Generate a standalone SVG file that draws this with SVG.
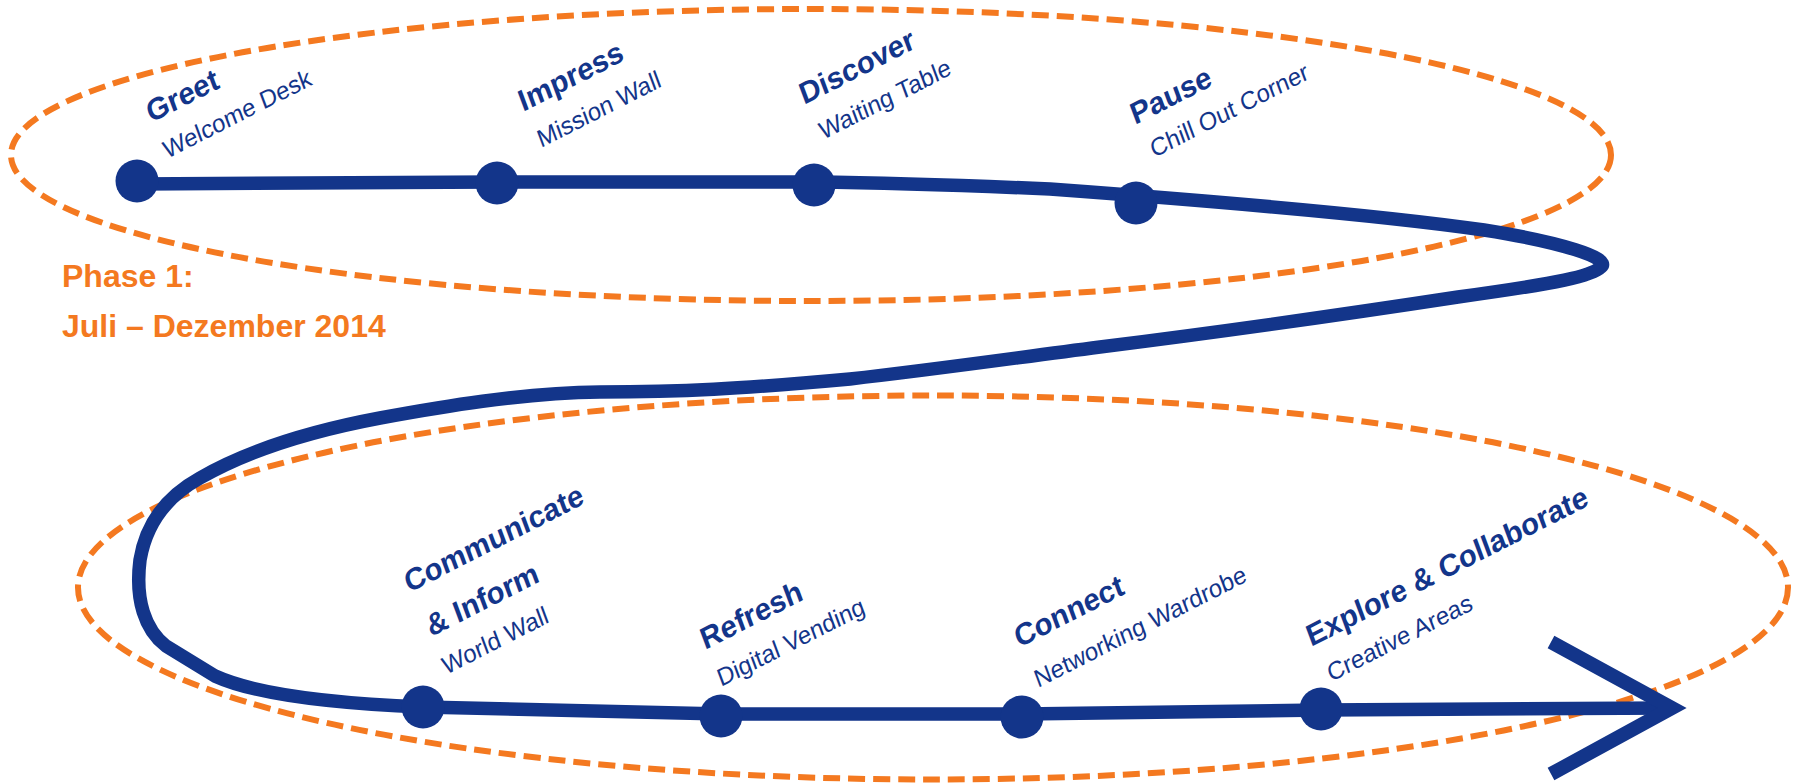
<svg xmlns="http://www.w3.org/2000/svg" width="1801" height="784" viewBox="0 0 1801 784">
<style>
.bg{fill:#ffffff}
.phase{fill:none;stroke:#F47920;stroke-width:6;stroke-dasharray:17 8}
.path{fill:none;stroke:#13358A;stroke-width:13.5;stroke-linejoin:round}
.arrow{fill:none;stroke:#13358A;stroke-width:14;stroke-linejoin:miter;stroke-miterlimit:10}
.dot{fill:#13358A}
.t{font-family:"Liberation Sans",Arial,sans-serif;fill:#13358A}
.b{font-weight:bold;font-size:30px}
.s{font-size:24.5px}
.ph{font-family:"Liberation Sans",Arial,sans-serif;font-weight:bold;font-size:32px;fill:#F47920}
</style>
<rect class="bg" x="0" y="0" width="1801" height="784"/>
<g id="phases">
<ellipse class="phase" cx="811" cy="155" rx="800" ry="146"/>
<ellipse class="phase" cx="933" cy="587.5" rx="855" ry="192"/>
</g>
<g id="connectors">
<path class="path" d="M137,184 C300,183 420,182 497,182 C620,181 720,181 814,182 C900,183 980,186 1050,189 C1200,200 1380,215 1484,230 C1560,242 1612,258 1601,267 C1592,276 1560,283 1458,297 C1340,315 1220,332 1100,347 C1000,360 930,370 850,379 C740,389 680,392 600,392 C520,393 440,407 380,418 C300,433 240,455 200,478 C160,500 145,530 140,560 C135,600 145,630 166,646 L215,676 C250,692 320,703 423,707 L722,714 L1022,714 L1321,710 L1672,708"/>
<polyline class="arrow" points="1551,642 1672,708 1551,774"/>
</g>
<g id="label-phase">
<text class="ph" x="62" y="287">Phase 1:</text>
<text class="ph" x="62" y="337">Juli – Dezember 2014</text>
</g>
<g id="node-greet">
<circle class="dot" cx="137" cy="181" r="21.5"/>
<text class="t b" transform="matrix(0.891,-0.454,0.35,0.94,151,123)">Greet</text>
<text class="t s" transform="matrix(0.891,-0.454,0.35,0.94,167,159)">Welcome Desk</text>
</g>
<g id="node-impress">
<circle class="dot" cx="497" cy="183" r="21.5"/>
<text class="t b" transform="matrix(0.891,-0.454,0.35,0.94,523,112)">Impress</text>
<text class="t s" transform="matrix(0.891,-0.454,0.35,0.94,541,148)">Mission Wall</text>
</g>
<g id="node-discover">
<circle class="dot" cx="814" cy="185" r="21.5"/>
<text class="t b" transform="matrix(0.891,-0.454,0.35,0.94,804,105)">Discover</text>
<text class="t s" transform="matrix(0.891,-0.454,0.35,0.94,823,140)">Waiting Table</text>
</g>
<g id="node-pause">
<circle class="dot" cx="1136" cy="203" r="21.5"/>
<text class="t b" transform="matrix(0.891,-0.454,0.35,0.94,1135,125)">Pause</text>
<text class="t s" transform="matrix(0.891,-0.454,0.35,0.94,1154,158)">Chill Out Corner</text>
</g>
<g id="node-communicate">
<circle class="dot" cx="423" cy="707" r="21.5"/>
<text class="t b" transform="matrix(0.891,-0.454,0.35,0.94,409,593)">Communicate</text>
<text class="t b" transform="matrix(0.891,-0.454,0.35,0.94,431,637)">&amp; Inform</text>
<text class="t s" transform="matrix(0.891,-0.454,0.35,0.94,446,675)">World Wall</text>
</g>
<g id="node-refresh">
<circle class="dot" cx="721" cy="716" r="21.5"/>
<text class="t b" transform="matrix(0.891,-0.454,0.35,0.94,705,650)">Refresh</text>
<text class="t s" transform="matrix(0.891,-0.454,0.35,0.94,721,687)">Digital Vending</text>
</g>
<g id="node-connect">
<circle class="dot" cx="1022" cy="717" r="21.5"/>
<text class="t b" transform="matrix(0.891,-0.454,0.35,0.94,1019,648)">Connect</text>
<text class="t s" transform="matrix(0.891,-0.454,0.35,0.94,1038,688)">Networking Wardrobe</text>
</g>
<g id="node-explore">
<circle class="dot" cx="1321" cy="709" r="21.5"/>
<text class="t b" transform="matrix(0.891,-0.454,0.35,0.94,1311,647)">Explore &amp; Collaborate</text>
<text class="t s" transform="matrix(0.891,-0.454,0.35,0.94,1331,682)">Creative Areas</text>
</g>
</svg>
